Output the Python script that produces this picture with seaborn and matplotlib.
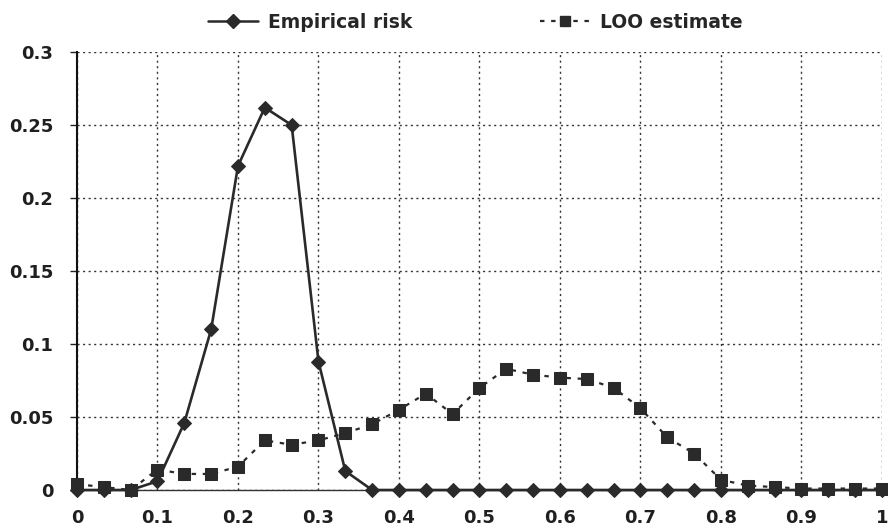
import numpy as np
import pandas as pd
import matplotlib
matplotlib.use("Agg")
import matplotlib.pyplot as plt
import seaborn as sns
from matplotlib.lines import Line2D

sns.set_style("white")
plt.rcParams['font.family'] = ['DejaVu Sans']

x_vals = [i / 30 for i in range(31)]
empirical_risk = [0.0, 0.0, 0.0, 0.006, 0.046, 0.110, 0.222, 0.262, 0.250, 0.088,
                  0.013, 0.0, 0.0, 0.0, 0.0, 0.0, 0.0, 0.0, 0.0, 0.0,
                  0.0, 0.0, 0.0, 0.0, 0.0, 0.0, 0.0, 0.0, 0.0, 0.0, 0.0]
loo_estimate = [0.004, 0.002, 0.0, 0.014, 0.011, 0.011, 0.016, 0.034, 0.031, 0.034,
                0.039, 0.045, 0.055, 0.066, 0.052, 0.070, 0.083, 0.079, 0.077, 0.076,
                0.070, 0.056, 0.036, 0.025, 0.007, 0.003, 0.002, 0.001, 0.001, 0.001, 0.001]
x_ticks = [0, 0.1, 0.2, 0.3, 0.4, 0.5, 0.6, 0.7, 0.8, 0.9, 1]
x_labels = ["0", "0.1", "0.2", "0.3", "0.4", "0.5", "0.6", "0.7", "0.8", "0.9", "1"]
y_ticks = [0, 0.05, 0.1, 0.15, 0.2, 0.25, 0.3]
y_labels = ["0", "0.05", "0.1", "0.15", "0.2", "0.25", "0.3"]

df = pd.DataFrame({"x": x_vals, "emp": empirical_risk, "loo": loo_estimate})

fig = plt.figure(figsize=(8.88, 5.27), dpi=100)
ax = fig.add_axes([0.0867, 0.0702, 0.9065, 0.831])

col = "#2a2a2a"
sns.lineplot(data=df, x="x", y="loo", ax=ax, color=col, linestyle=(0, (2, 3)),
             linewidth=1.6, marker="s", markersize=8, markeredgecolor=col, zorder=3,
             clip_on=False)
sns.lineplot(data=df, x="x", y="emp", ax=ax, color=col, linestyle="-",
             linewidth=1.9, marker="D", markersize=7.5, markeredgecolor=col, zorder=4,
             clip_on=False)

ax.set_xlim(0, 1)
ax.set_ylim(0, 0.3)
ax.set_xticks(x_ticks)
ax.set_xticklabels(x_labels)
ax.set_yticks(y_ticks)
ax.set_yticklabels(y_labels)
ax.set_xlabel("")
ax.set_ylabel("")
ax.grid(True, color="#333333", linestyle=(0, (1.5, 2.5)), linewidth=1.0)
for lbl in ax.get_xticklabels() + ax.get_yticklabels():
    lbl.set_fontweight("bold")
    lbl.set_fontsize(13)
    lbl.set_color("#1f1f1f")
ax.tick_params(axis="y", length=5, width=1, color="#222222", direction="out", left=True, pad=12)
ax.tick_params(axis="x", length=0, pad=14)
for side in ["top", "right"]:
    ax.spines[side].set_visible(False)
ax.spines["left"].set_color("#111111")
ax.spines["left"].set_linewidth(1.5)
ax.spines["bottom"].set_color("#333333")
ax.spines["bottom"].set_linewidth(1.0)

handles = [
    Line2D([], [], color=col, linestyle="-", linewidth=1.8, marker="D", markersize=7),
    Line2D([], [], color=col, linestyle=(0, (2, 3)), linewidth=1.6, marker="s", markersize=7),
]
fig.legend(handles, ["Empirical risk", "LOO estimate"], loc="center",
           bbox_to_anchor=(0.535, 0.958), ncol=2, frameon=False, columnspacing=6.8,
           handlelength=2.7, handletextpad=0.5,
           prop={"weight": "bold", "size": 13.5})

fig.savefig("out.png", dpi=100)
